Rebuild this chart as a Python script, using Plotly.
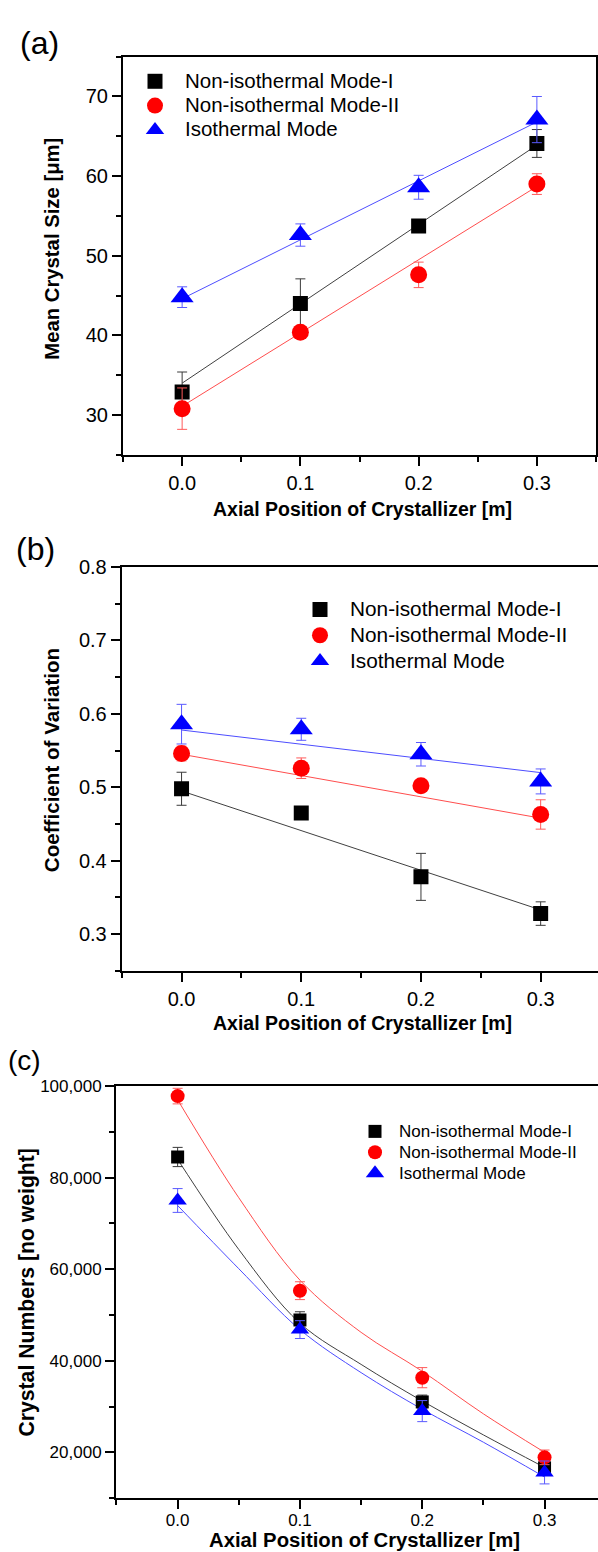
import plotly.graph_objects as go

# ---------------- data ----------------
x_pos = [0.0, 0.1, 0.2, 0.3]
series_names = ["Non-isothermal Mode-I", "Non-isothermal Mode-II", "Isothermal Mode"]

# (a) Mean crystal size [um]
a_mode1 = [32.9, 44.0, 53.75, 64.1]
a_mode1_err = [2.5, 3.1, 0.5, 1.75]
a_mode2 = [30.8, 40.4, 47.6, 59.0]
a_mode2_err = [2.6, 0.6, 1.6, 1.3]
a_iso = [44.8, 52.6, 58.6, 67.1]
a_iso_err = [1.3, 1.4, 1.5, 2.9]
a_fit_x = [0.0, 0.3]
a_fit_mode1 = [34.0, 63.9]
a_fit_mode2 = [31.1, 58.7]
a_fit_iso = [44.6, 66.8]

# (b) Coefficient of variation
b_mode1 = [0.498, 0.465, 0.378, 0.328]
b_mode1_err = [0.0225, 0.005, 0.032, 0.016]
b_mode2 = [0.546, 0.526, 0.502, 0.463]
b_mode2_err = [0.01, 0.014, 0.008, 0.02]
b_iso = [0.586, 0.579, 0.545, 0.508]
b_iso_err = [0.027, 0.015, 0.016, 0.017]
b_fit_x = [0.0, 0.3]
b_fit_mode1 = [0.495, 0.333]
b_fit_mode2 = [0.545, 0.458]
b_fit_iso = [0.578, 0.520]

# (c) Crystal numbers
c_mode1 = [84500, 48900, 31000, 16600]
c_mode1_err = [2100, 1800, 1500, 1500]
c_mode2 = [97800, 55300, 36300, 18900]
c_mode2_err = [1700, 1950, 2200, 1600]
c_iso = [75000, 46800, 29000, 15600]
c_iso_err = [2600, 1950, 2300, 2500]
c_fit_x = [0.0, 0.05, 0.1, 0.15, 0.2, 0.25, 0.3]
c_fit_mode1 = [84000, 64300, 48200, 39200, 31200, 23800, 16700]
c_fit_mode2 = [97000, 75600, 57600, 46200, 37700, 28400, 20000]
c_fit_iso = [73900, 60100, 46800, 37400, 29400, 22200, 14600]

x_tick_vals = [0.0, 0.1, 0.2, 0.3]
a_y_ticks = [30, 40, 50, 60, 70]
b_y_ticks = [0.3, 0.4, 0.5, 0.6, 0.7, 0.8]
c_y_ticks = [20000, 40000, 60000, 80000, 100000]

# ---------------- styling ----------------
W, H = 598, 1552
FONT = "Liberation Sans, Arial, sans-serif"
marker_colors = ["#000000", "#ff0000", "#0000ff"]
line_colors = ["#404040", "#ff4d4d", "#4d4dff"]
err_colors = ["#3a3a3a", "#ff5a5a", "#5a5aff"]
symbols = ["square", "circle", "triangle-up"]


def px_x(p):
    return p / W


def px_y(p):
    return 1 - p / H


fig = go.Figure()

panels = [
    dict(xa="x", ya="y", leg="legend", legtext=20.5,
         data=[(a_mode1, a_mode1_err), (a_mode2, a_mode2_err), (a_iso, a_iso_err)],
         fitx=a_fit_x, fits=[a_fit_mode1, a_fit_mode2, a_fit_iso],
         sizes=[15, 17, 20], shape="linear"),
    dict(xa="x2", ya="y2", leg="legend2", legtext=20.8,
         data=[(b_mode1, b_mode1_err), (b_mode2, b_mode2_err), (b_iso, b_iso_err)],
         fitx=b_fit_x, fits=[b_fit_mode1, b_fit_mode2, b_fit_iso],
         sizes=[15, 17, 20], shape="linear"),
    dict(xa="x3", ya="y3", leg="legend3", legtext=17,
         data=[(c_mode1, c_mode1_err), (c_mode2, c_mode2_err), (c_iso, c_iso_err)],
         fitx=c_fit_x, fits=[c_fit_mode1, c_fit_mode2, c_fit_iso],
         sizes=[13, 14, 16], shape="spline"),
]

for p in panels:
    # fit lines
    for i, fy in enumerate(p["fits"]):
        fig.add_trace(go.Scatter(
            x=p["fitx"], y=fy, mode="lines", xaxis=p["xa"], yaxis=p["ya"],
            line=dict(color=line_colors[i], width=1, shape=p["shape"]),
            showlegend=False, hoverinfo="skip"))
    # data points with error bars
    for i, (vals, errs) in enumerate(p["data"]):
        label = '<span style="font-size:%spx">%s</span>' % (p["legtext"], series_names[i])
        fig.add_trace(go.Scatter(
            x=x_pos, y=vals, mode="markers", name=label,
            xaxis=p["xa"], yaxis=p["ya"], legend=p["leg"],
            marker=dict(symbol=symbols[i], size=p["sizes"][i], color=marker_colors[i],
                        line=dict(width=0)),
            error_y=dict(type="data", array=errs, visible=True, color=err_colors[i],
                         thickness=1, width=5)))

axis_common = dict(showline=True, linecolor="black", linewidth=2,
                   ticks="outside", ticklen=9, tickwidth=1.5, tickcolor="black",
                   showgrid=False, zeroline=False)
big_tickfont = dict(family=FONT, size=20, color="black")
small_tickfont = dict(family=FONT, size=17, color="black")


def minor(d):
    return dict(ticks="outside", ticklen=5, dtick=d, tick0=0, tickwidth=1.5,
                tickcolor="black", showgrid=False)


fig.update_layout(
    # panel (a)
    xaxis=dict(domain=[px_x(123), px_x(596)], anchor="y", range=[-0.05, 0.35],
               tickvals=x_tick_vals, tickformat=".1f", mirror=True,
               tickfont=big_tickfont, minor=minor(0.05), **axis_common),
    yaxis=dict(domain=[px_y(447), px_y(46)], anchor="x", range=[25, 75],
               tickvals=a_y_ticks, mirror=True,
               tickfont=big_tickfont, minor=minor(5), **axis_common),
    # panel (b)
    xaxis2=dict(domain=[px_x(121.7), 1.0], anchor="y2", range=[-0.05, 0.3479],
                tickvals=x_tick_vals, tickformat=".1f", mirror=True,
                tickfont=big_tickfont, minor=minor(0.05), **axis_common),
    yaxis2=dict(domain=[px_y(966.7), px_y(560)], anchor="x2", range=[0.25, 0.8],
                tickvals=b_y_ticks, tickformat=".1f",
                tickfont=big_tickfont, minor=minor(0.05), **axis_common),
    # panel (c)
    xaxis3=dict(domain=[px_x(116), 1.0], anchor="y3", range=[-0.0504, 0.3437],
                tickvals=x_tick_vals, tickformat=".1f", mirror=True, ticklabelstandoff=-3,
                tickfont=small_tickfont, minor=minor(0.05), **axis_common),
    yaxis3=dict(domain=[px_y(1497.7), px_y(1082.7)], anchor="x3", range=[10000, 100000],
                tickvals=c_y_ticks, tickformat=",d",
                tickfont=small_tickfont, minor=minor(10000), **axis_common),
)

leg_common = dict(bgcolor="rgba(0,0,0,0)", borderwidth=0, xanchor="left", yanchor="top",
                  itemclick=False, itemdoubleclick=False)
fig.update_layout(
    legend=dict(x=px_x(125), y=px_y(53.5), itemwidth=50,
                font=dict(family=FONT, size=16.4, color="black"), **leg_common),
    legend2=dict(x=px_x(290), y=px_y(584.8), itemwidth=50,
                 font=dict(family=FONT, size=17.5, color="black"), **leg_common),
    legend3=dict(x=px_x(351), y=px_y(1112.8), itemwidth=38,
                 font=dict(family=FONT, size=13.8, color="black"), **leg_common),
)

ann = []
panel_labels = [("(a)", 39, 32, 32), ("(b)", 35, 542, 32), ("(c)", 24, 1057, 28)]
for t, xx, yy, sz in panel_labels:
    ann.append(dict(text=t, x=px_x(xx), y=px_y(yy), xref="paper", yref="paper",
                    xanchor="center", yanchor="middle", showarrow=False,
                    font=dict(family=FONT, size=sz, color="black")))

titles = [
    ("Mean Crystal Size [μm]", 52.4, 239, -90, 20.3),
    ("Axial Position of Crystallizer [m]", 362.5, 502, 0, 19.5),
    ("Coefficient of Variation", 51.5, 755, -90, 20.6),
    ("Axial Position of Crystallizer [m]", 362.5, 1019, 0, 19.5),
    ("Crystal Numbers [no weight]", 26.7, 1291, -90, 21.2),
    ("Axial Position of Crystallizer [m]", 364, 1539.5, 0, 20.3),
]
for t, xx, yy, ang, sz in titles:
    ann.append(dict(text="<b>" + t + "</b>", x=px_x(xx), y=px_y(yy), xref="paper", yref="paper",
                    xanchor="center", yanchor="middle", showarrow=False, textangle=ang,
                    font=dict(family=FONT, size=sz, color="black")))

fig.update_layout(
    width=W, height=H, margin=dict(l=0, r=0, t=0, b=0),
    paper_bgcolor="white", plot_bgcolor="white",
    annotations=ann, showlegend=True,
    font=dict(family=FONT, color="black"),
)

fig.write_html("out.html")
